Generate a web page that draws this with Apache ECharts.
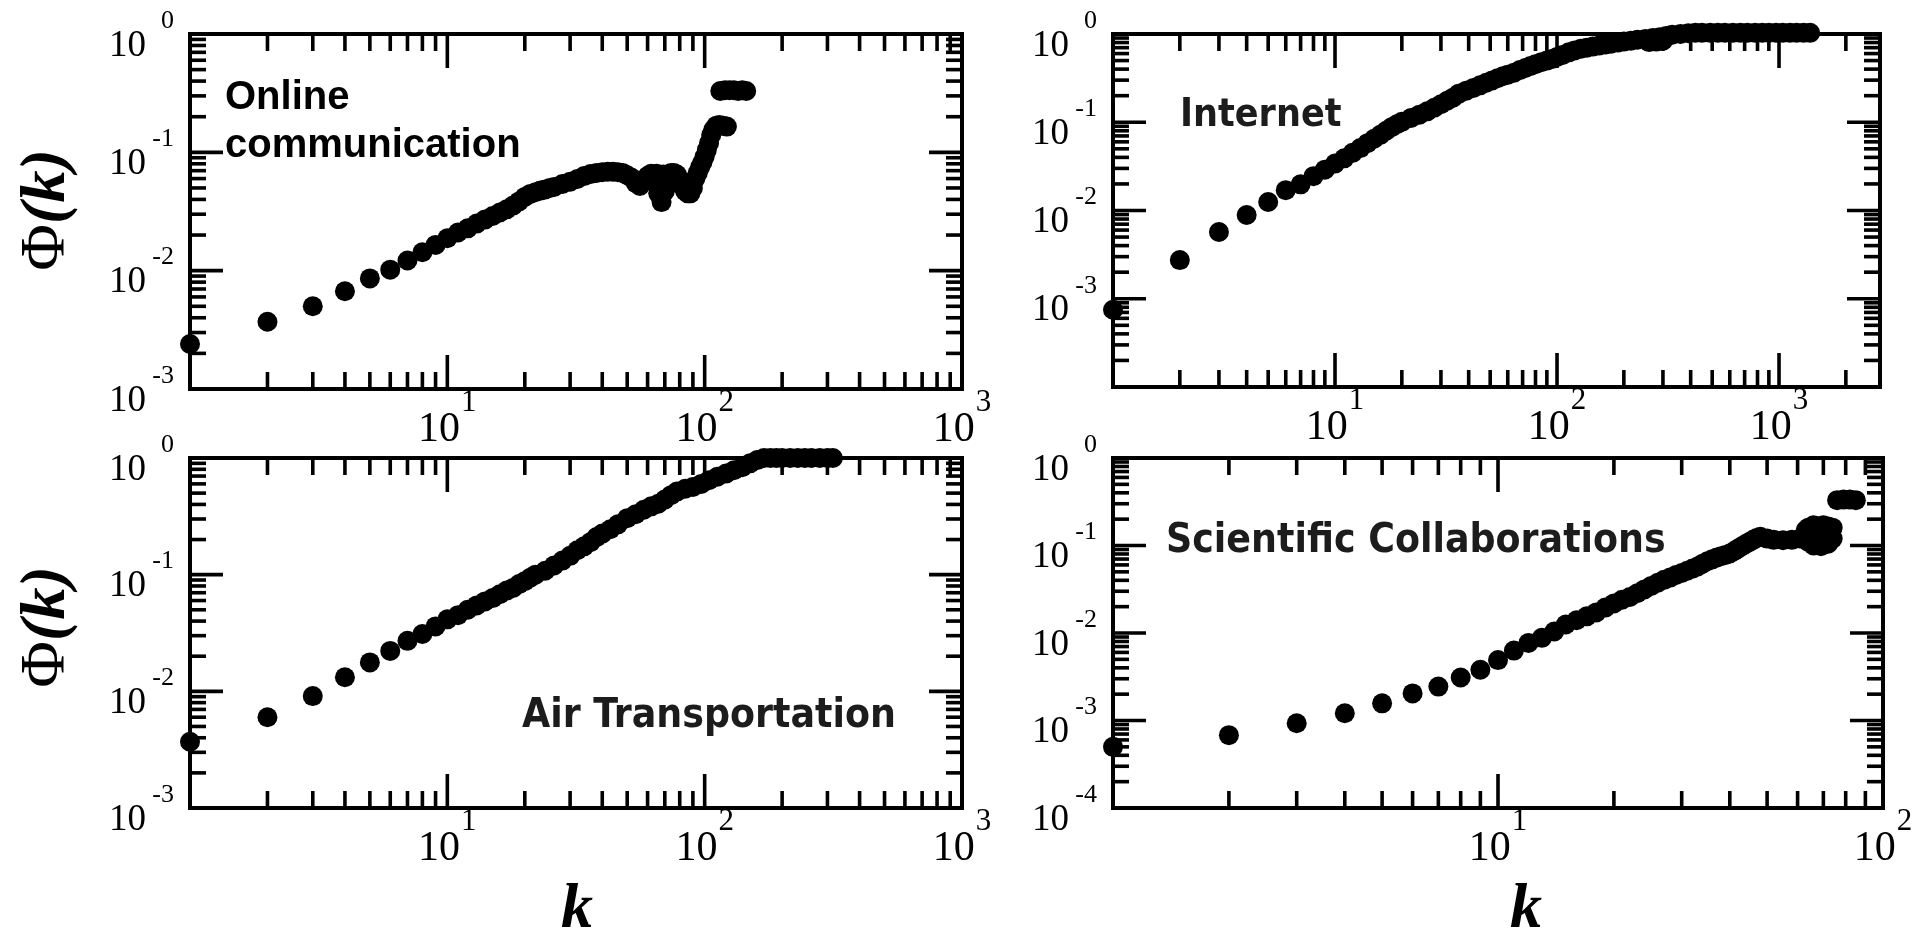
<!DOCTYPE html>
<html>
<head>
<meta charset="utf-8">
<script src="https://cdn.jsdelivr.net/npm/echarts@6/dist/echarts.min.js"></script>
<style>
html,body{margin:0;padding:0;background:#fff;}
#chart{width:1930px;height:935px;}
</style>
</head>
<body>
<div id="chart"></div>
<script>
// ---------------- DATA ----------------
const panelTitles = ['Online\ncommunication', 'Internet', 'Air Transportation', 'Scientific Collaborations'];
const xTitle = 'k';
const yTitleSymbol = 'Φ';
const yTitleArg = '(k)';

// Online communication
const onlineK = [1,2,3,4,5,6,7,8,9,10,11,12,13,14,15,16,17,18,19,20,21,22,23,24,25,26,
  28,30,32,34,36,38,40,42,44,46,48,50,52,54,56,58,60,62,64,66,68,70,72,74,76,78,80,82,84,86,88,90,92,94,96,98,100,102,104,106,108,
  111,114,118,122,115,120,125,130,135,140,145,65,69];
const onlinePhi = [0.0024,0.0037,0.005,0.0067,0.0086,0.0102,0.0122,0.0143,0.0165,0.0188,0.021,0.0228,0.025,0.027,0.029,0.031,0.033,0.0355,0.0385,0.042,0.0445,0.046,0.0475,0.0485,0.05,0.051,
  0.054,0.0565,0.0595,0.063,0.0655,0.067,0.068,0.0685,0.0685,0.068,0.067,0.064,0.061,0.055,0.052,0.058,0.063,0.066,0.056,0.045,0.038,0.047,0.061,0.067,0.067,0.065,0.058,0.052,0.047,0.045,0.045,0.05,0.06,0.067,0.075,0.082,0.092,0.105,0.12,0.14,0.155,
  0.168,0.17,0.168,0.165,0.33,0.335,0.335,0.335,0.33,0.335,0.33,0.066,0.065];

// Internet
const internetK = [1,2,3,4,5,6,7,8,9,10,11,12,13,14,15,16,17,18,19,20,
  22,24,26,28,30,32,34,36,39,42,45,48,51,54,57,60,64,68,72,76,80,85,90,95,100,
  106,113,120,128,136,145,155,165,175,188,200,215,230,250,270,290,310,260,280,300,330,360,390,
  420,450,490,530,570,620,670,720,780,840,900,970,1040,1120,1200,1290,1380];
const internetPhi = [0.00075,0.00274,0.0057,0.0089,0.0125,0.017,0.0198,0.0245,0.029,0.034,0.039,0.045,0.051,0.058,0.065,0.072,0.08,0.088,0.095,0.101,
  0.112,0.122,0.133,0.146,0.16,0.175,0.19,0.21,0.228,0.245,0.262,0.28,0.298,0.315,0.332,0.345,0.365,0.39,0.412,0.435,0.455,0.48,0.5,0.52,0.55,
  0.58,0.62,0.65,0.68,0.7,0.72,0.74,0.76,0.775,0.8,0.82,0.84,0.86,0.88,0.9,0.92,0.95,0.81,0.82,0.84,0.98,1.0,1.02,
  1.03,1.03,1.03,1.03,1.03,1.03,1.03,1.03,1.03,1.03,1.03,1.03,1.03,1.03,1.03,1.03,1.03];

// Air Transportation
const airK = [1,2,3,4,5,6,7,8,9,10,11,12,13,14,15,16,17,18,19,20,21,22,
  24,26,28,30,32,34,36,38,40,43,46,50,54,58,62,66,70,74,78,84,90,97,
  104,112,121,130,140,150,160,170,180,190,200,215,230,245,260,280,300,315];
const airPhi = [0.0037,0.006,0.0091,0.0132,0.0177,0.0222,0.0271,0.031,0.036,0.0414,0.045,0.05,0.0545,0.059,0.063,0.068,0.073,0.077,0.083,0.088,0.094,0.1,
  0.108,0.12,0.132,0.145,0.162,0.175,0.19,0.21,0.225,0.245,0.27,0.305,0.33,0.36,0.385,0.405,0.44,0.48,0.515,0.545,0.565,0.6,
  0.645,0.69,0.735,0.785,0.835,0.9,0.96,1,1,1,1,1,1,1,1,1,1,1];

// Scientific Collaborations
const sciK = [1,2,3,4,5,6,7,8,9,10,11,12,13,14,15,16,17,18,19,20,21,22,23,24,25,26,27,28,29,30,31,32,33,34,35,36,37,38,39,40,41,42,43,44,45,46,47,48,
  50,52,55,58,61,63,64,66,68,70,72,74,64,66,69,72,74,68,71,73,76,79,82,85];
const sciPhi = [0.0005,0.00068,0.00093,0.00121,0.00157,0.00204,0.00244,0.0031,0.0038,0.0049,
  0.0063,0.0077,0.0088,0.0104,0.0125,0.014,0.0155,0.0172,0.0195,0.0218,
  0.024,0.0258,0.0285,0.0315,0.0345,0.0375,0.0405,0.043,0.046,0.0485,
  0.0515,0.0545,0.0575,0.062,0.066,0.0695,0.073,0.0755,0.078,0.081,
  0.086,0.092,0.098,0.104,0.11,0.116,0.122,0.126,
  0.12,0.116,0.115,0.116,0.12,0.15,0.16,0.17,0.165,0.17,0.165,0.16,0.11,0.1,0.098,0.105,0.12,0.13,0.135,0.14,0.33,0.335,0.335,0.33];

// Axis ranges and labelled decades (exponents of 10)
const onlineRangeK = [1, 1000],   onlineRangePhi = [0.001, 1];
const internetRangeK = [1, 2850], internetRangePhi = [0.0001, 1];
const airRangeK = [1, 1000],      airRangePhi = [0.001, 1];
const sciRangeK = [1, 100],       sciRangePhi = [0.0001, 1];
const onlineXExp = [1, 2, 3],   onlineYExp = [0, -1, -2, -3];
const internetXExp = [1, 2, 3], internetYExp = [0, -1, -2, -3];
const airXExp = [1, 2, 3],      airYExp = [0, -1, -2, -3];
const sciXExp = [1, 2],         sciYExp = [0, -1, -2, -3, -4];

// ---------------- CHART ----------------
const panels = [
  {k: onlineK, phi: onlinePhi, rk: onlineRangeK, rp: onlineRangePhi, xe: onlineXExp, ye: onlineYExp,
   grid: {left: 190, top: 34, width: 772, height: 355}},
  {k: internetK, phi: internetPhi, rk: internetRangeK, rp: internetRangePhi, xe: internetXExp, ye: internetYExp,
   grid: {left: 1113, top: 34, width: 767, height: 353}},
  {k: airK, phi: airPhi, rk: airRangeK, rp: airRangePhi, xe: airXExp, ye: airYExp,
   grid: {left: 190, top: 458, width: 772, height: 350}},
  {k: sciK, phi: sciPhi, rk: sciRangeK, rp: sciRangePhi, xe: sciXExp, ye: sciYExp,
   grid: {left: 1113, top: 458, width: 770, height: 350}}
];

function expFormatter(exps) {
  return function (v) {
    const l = Math.log10(v);
    const e = Math.round(l);
    if (Math.abs(l - e) > 1e-6 || exps.indexOf(e) < 0) return '';
    return '{b|10}{s|' + e + '}';
  };
}

function tickItems(rk, rp) {
  const items = [];
  const ym = Math.sqrt(rp[0] * rp[1]);
  const xm = Math.sqrt(rk[0] * rk[1]);
  function walk(r, cb) {
    const d0 = Math.floor(Math.log10(r[0]) + 1e-9), d1 = Math.ceil(Math.log10(r[1]) - 1e-9);
    for (let d = d0; d <= d1; d++) {
      for (let m = 1; m <= 9; m++) {
        const v = m * Math.pow(10, d);
        if (v > r[0] * 1.0001 && v < r[1] * 0.9999) cb(v, m === 1 ? 1 : 0);
      }
    }
  }
  walk(rk, function (v, maj) { items.push([v, ym, 0, maj]); });
  walk(rp, function (v, maj) { items.push([xm, v, 1, maj]); });
  return items;
}

function renderTick(params, api) {
  const cs = params.coordSys;
  const kind = api.value(2), major = api.value(3);
  const p = api.coord([api.value(0), api.value(1)]);
  const st = {stroke: '#000', lineWidth: 3.6, fill: null};
  if (kind === 0) {
    const L = major ? 34 : 17, x = p[0], yb = cs.y + cs.height, yt = cs.y;
    return {type: 'group', children: [
      {type: 'line', shape: {x1: x, y1: yb, x2: x, y2: yb - L}, style: st},
      {type: 'line', shape: {x1: x, y1: yt, x2: x, y2: yt + L}, style: st}
    ]};
  }
  const L = major ? 33 : 16, y = p[1], xl = cs.x, xr = cs.x + cs.width;
  return {type: 'group', children: [
    {type: 'line', shape: {x1: xl, y1: y, x2: xl + L, y2: y}, style: st},
    {type: 'line', shape: {x1: xr, y1: y, x2: xr - L, y2: y}, style: st}
  ]};
}

const serif = '"Liberation Serif", "Times New Roman", serif';
const grids = [], xAxes = [], yAxes = [], series = [];
panels.forEach(function (pn, i) {
  grids.push(Object.assign({show: true, borderColor: '#000', borderWidth: 4, backgroundColor: 'transparent'}, pn.grid));
  xAxes.push({
    type: 'log', logBase: 10, gridIndex: i, min: pn.rk[0], max: pn.rk[1],
    axisLine: {show: false}, axisTick: {show: false}, splitLine: {show: false}, minorTick: {show: false},
    axisLabel: {
      show: true, interval: 0, margin: 20, showMinLabel: true, showMaxLabel: true, hideOverlap: false,
      formatter: expFormatter(pn.xe), color: '#000', align: 'center',
      rich: {
        b: {fontFamily: serif, fontSize: 42, lineHeight: 42, color: '#000'},
        s: {fontFamily: serif, fontSize: 31, lineHeight: 31, color: '#000', padding: [0, 0, 54, 1]}
      }
    }
  });
  yAxes.push({
    type: 'log', logBase: 10, gridIndex: i, min: pn.rp[0], max: pn.rp[1],
    axisLine: {show: false}, axisTick: {show: false}, splitLine: {show: false}, minorTick: {show: false},
    axisLabel: {
      show: true, interval: 0, margin: 16, showMinLabel: true, showMaxLabel: true, hideOverlap: false,
      formatter: expFormatter(pn.ye), color: '#000',
      rich: {
        b: {fontFamily: serif, fontSize: 37, lineHeight: 37, color: '#000', padding: [24, 0, 0, 0]},
        s: {fontFamily: serif, fontSize: 26, lineHeight: 26, color: '#000', width: 28, align: 'right', padding: [0, 0, 26, 0]}
      }
    }
  });
  series.push({
    type: 'custom', xAxisIndex: i, yAxisIndex: i, silent: true, clip: false,
    renderItem: renderTick, data: tickItems(pn.rk, pn.rp), z: 3
  });
  series.push({
    type: 'scatter', xAxisIndex: i, yAxisIndex: i, silent: true, clip: false,
    symbol: 'circle', symbolSize: 20, itemStyle: {color: '#000', opacity: 1},
    data: pn.k.map(function (v, j) { return [v, pn.phi[j]]; }), z: 4
  });
});

const sansCond = '"DejaVu Sans Condensed", "DejaVu Sans", sans-serif';
const graphic = [
  {type: 'text', x: 225, y: 122, z: 10, style: {text: panelTitles[0], fontFamily: '"Liberation Sans", Arial, sans-serif', fontWeight: 'bold', fontSize: 40, lineHeight: 48, fill: '#000', align: 'left', verticalAlign: 'middle'}},
  {type: 'text', x: 1180, y: 116, z: 10, style: {text: panelTitles[1], fontFamily: sansCond, fontWeight: 'bold', fontSize: 39, fill: '#1c1c1c', align: 'left', verticalAlign: 'middle'}},
  {type: 'text', x: 522, y: 716, z: 10, style: {text: panelTitles[2], fontFamily: sansCond, fontWeight: 'bold', fontSize: 40.5, fill: '#1c1c1c', align: 'left', verticalAlign: 'middle'}},
  {type: 'text', x: 1166, y: 541, z: 10, style: {text: panelTitles[3], fontFamily: sansCond, fontWeight: 'bold', fontSize: 40.5, fill: '#1c1c1c', align: 'left', verticalAlign: 'middle'}},
  {type: 'text', x: 577, y: 910, z: 10, style: {text: xTitle, fontFamily: serif, fontWeight: 'bold', fontStyle: 'italic', fontSize: 64, fill: '#000', align: 'center', verticalAlign: 'middle'}},
  {type: 'text', x: 1526, y: 910, z: 10, style: {text: xTitle, fontFamily: serif, fontWeight: 'bold', fontStyle: 'italic', fontSize: 64, fill: '#000', align: 'center', verticalAlign: 'middle'}}
];
[210, 627].forEach(function (cy) {
  graphic.push({
    type: 'text', x: 47, y: cy, rotation: Math.PI / 2, z: 10,
    style: {
      text: '{p|' + yTitleSymbol + '}{q|' + yTitleArg + '}', align: 'center', verticalAlign: 'middle',
      rich: {
        p: {fontFamily: serif, fontSize: 64, fill: '#000', fontWeight: 'normal'},
        q: {fontFamily: serif, fontSize: 64, fill: '#000', fontWeight: 'bold', fontStyle: 'italic'}
      }
    }
  });
});

const chart = echarts.init(document.getElementById('chart'), null, {renderer: 'canvas'});
chart.setOption({
  animation: false,
  backgroundColor: '#fff',
  grid: grids,
  xAxis: xAxes,
  yAxis: yAxes,
  series: series,
  graphic: graphic
});
</script>
</body>
</html>
